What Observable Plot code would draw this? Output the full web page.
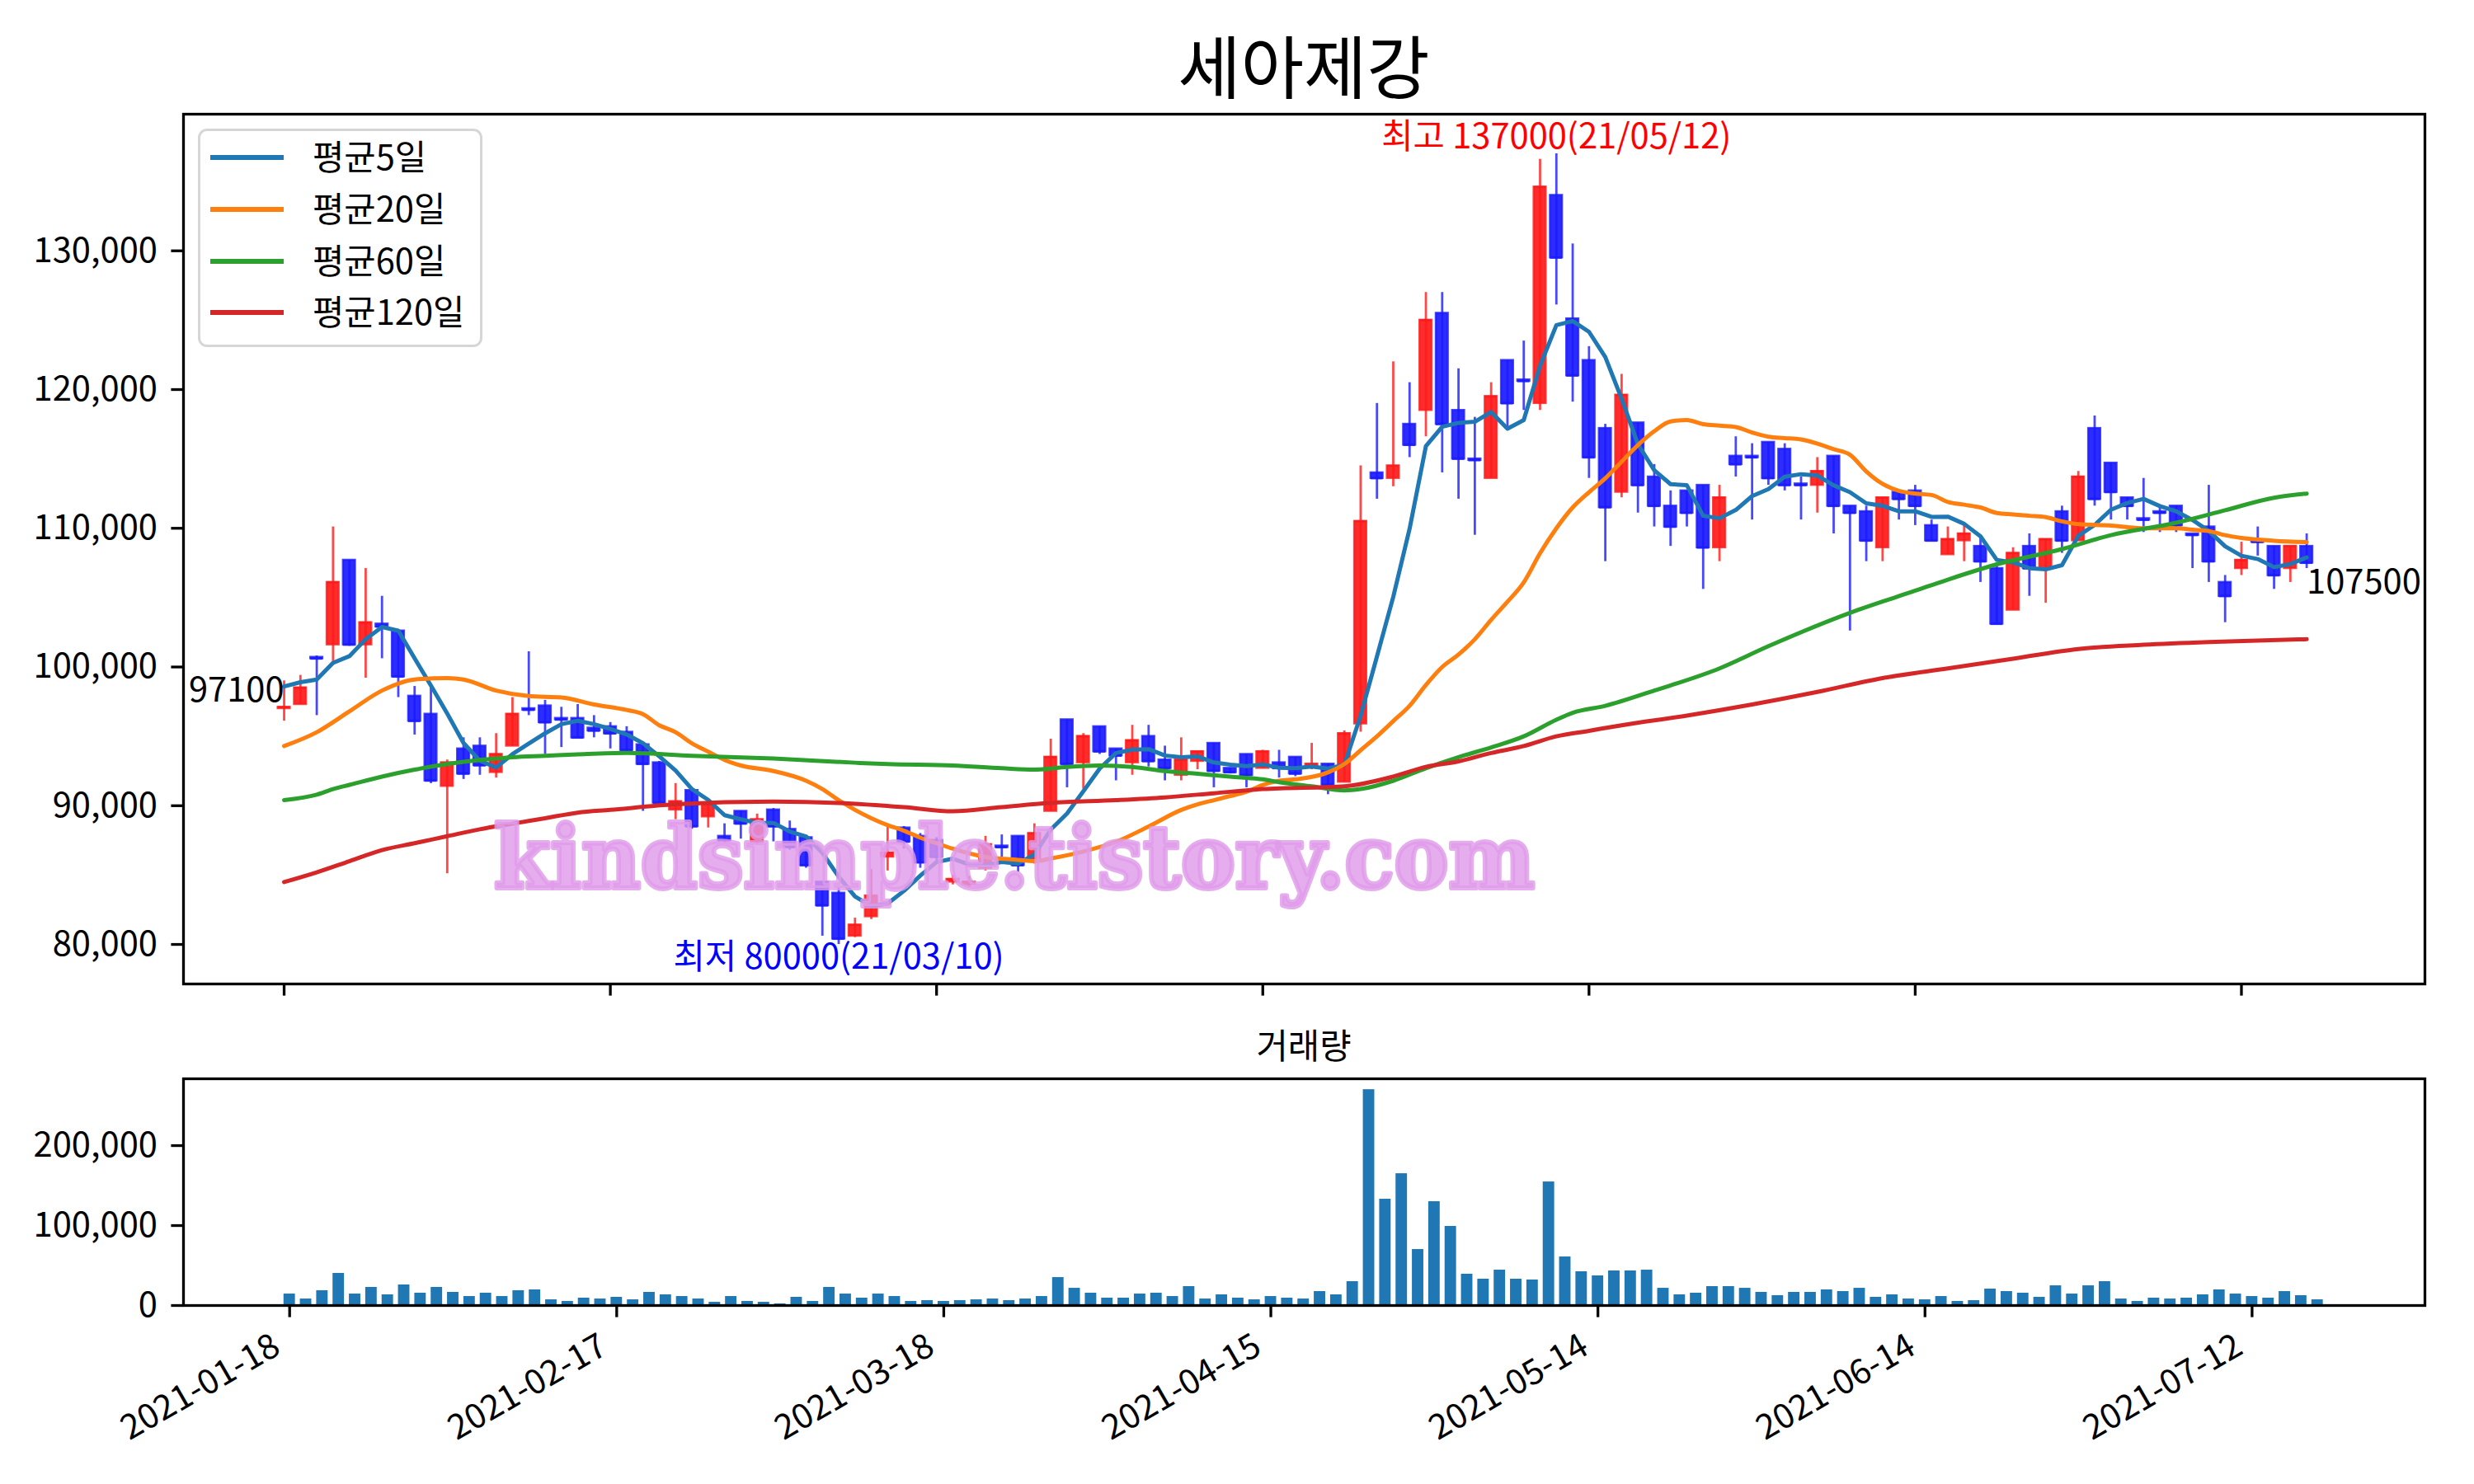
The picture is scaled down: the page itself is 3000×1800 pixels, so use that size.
<!DOCTYPE html>
<html>
<head>
<meta charset="utf-8">
<script src="https://cdn.jsdelivr.net/npm/d3@7"></script>
<script src="https://cdn.jsdelivr.net/npm/@observablehq/plot@0.6"></script>
<style>
  html, body { margin: 0; padding: 0; background: #fff; }
  #wrap { position: relative; width: 3000px; height: 1800px; background: #fff; font-family: "Noto Sans CJK KR", sans-serif; color: #000; overflow: hidden; }
  #wrap .abs { position: absolute; }
  #wrap svg g[aria-label*="axis"] line, #wrap svg g[aria-label*="axis"] path { stroke-width: 3.3px; stroke: #000; }
  #wrap svg g[aria-label*="axis"] text { fill: #000; }
  .title { left: 222px; width: 2718px; top: 36px; text-align: center; font-size: 83px; line-height: 1; }
  .subtitle { left: 222px; width: 2718px; top: 1246px; text-align: center; font-size: 41.67px; line-height: 1; }
  .legend { left: 240px; top: 156px; width: 345px; height: 265px; box-sizing: border-box; border: 3.3px solid #d6d6d6; border-radius: 11px; background: rgba(255,255,255,0.8); }
  .lgline { position: absolute; left: 255px; width: 89px; height: 6px; }
  .lgtext { position: absolute; left: 379px; font-size: 41.67px; line-height: 1; }
</style>
</head>
<body>
<div id="wrap"></div>
<script>
// ---------------- data ----------------
const tickIdx = [0, 20, 40, 60, 80, 100, 120];
const tickLabels = ["2021-01-18", "2021-02-17", "2021-03-18", "2021-04-15", "2021-05-14", "2021-06-14", "2021-07-12"];

const opens = [97000,97300,100700,101600,107700,101600,103100,102600,97900,96600,
91400,94100,94300,92400,94300,97000,97200,96300,96300,95600,
95700,95300,94400,93100,89700,91100,89200,87800,89600,87400,
89700,88300,87700,84500,83700,80600,82000,86300,88400,87800,
87500,84500,84300,85500,87100,87800,86000,89600,96200,93100,
95700,94100,93100,95000,93300,92200,93200,94500,92700,93700,
92700,93100,93500,92900,93000,91700,95900,114000,113600,117500,
118500,125500,118500,115000,113600,122100,120700,119000,134000,125100,
122100,117200,112600,117600,113700,111600,112700,113100,108600,115200,
115200,116200,115700,113200,113100,115200,111600,111200,108600,112600,
112700,110200,108100,109100,108700,107100,104100,108700,107200,111200,
109100,117200,114700,112200,110700,111200,111600,109600,110100,106100,
107100,109100,108700,107100,108700];

const highs = [99000,99400,100800,110100,107700,107100,105100,102600,98600,98500,
93300,94900,94900,95200,97800,101100,97600,97100,97300,96500,
96000,95700,94400,93200,91600,91200,90200,88700,89600,89400,
89800,88900,87700,84500,84100,81900,85400,88500,88500,88000,
87700,85000,84900,87800,87900,87800,88700,94800,96200,95200,
95700,94100,95800,95800,94300,94900,93900,94500,92700,93700,
94000,94000,93500,94500,93000,95400,114500,119000,122000,120500,
127000,127000,121500,118000,120500,122100,123500,136600,137000,130500,
123100,117500,121100,117600,114600,112700,112700,113100,113100,116600,
116100,116200,116100,113700,115100,115200,111600,111600,112200,112600,
113100,110600,110100,110200,109400,107500,108600,109600,109200,111600,
114100,118100,114700,112200,113600,111600,111600,109600,113100,106600,
109000,110100,108700,108700,109600];

const lows = [96100,97300,96500,100400,101500,99200,100600,97800,95100,91600,
85100,91900,92200,92000,94300,96500,93700,94200,94900,94900,
94100,93900,89600,90200,89000,88300,88400,87300,87600,87200,
87400,86800,85500,80600,80000,80500,81800,85300,86900,85500,
85900,84300,84100,85300,86300,85200,85800,89600,91300,91200,
93700,91800,92200,92800,91800,91800,92600,91300,92300,91300,
92700,92000,92100,92600,90800,91700,95300,112100,113000,115100,
116600,114000,112100,109500,113600,117300,118500,118500,126100,119100,
113600,107600,112200,111100,110100,108700,110100,105600,107600,113700,
110600,113100,112700,110600,111100,109600,102600,107600,107600,110600,
110200,109100,108100,107600,106100,103100,104100,105100,104600,108200,
109100,111600,110600,110600,109700,109700,109700,107100,106100,103200,
106600,108000,105600,106100,107100];

const closes = [97100,98500,100600,106100,101600,103200,102900,99300,96100,91800,
93100,92300,92900,93700,96600,96900,96000,96200,94900,95400,
95200,94000,93000,90200,90300,88500,90100,87500,88700,89000,
88500,87000,85700,82800,80400,81400,83500,86600,87400,85900,
86300,84700,84500,87200,87000,85700,88000,93500,93000,95000,
93900,93600,94700,93200,92700,93300,93900,92500,92400,92200,
93900,92700,92300,93000,91500,95200,110500,113600,114500,116000,
125000,117500,115000,114900,119500,119000,120600,134600,129500,121000,
115100,111500,119600,113100,111600,110100,111100,108600,112200,114600,
115100,113600,113100,113100,114100,111600,111100,109100,112200,112100,
111600,109100,109200,109600,107600,103100,108200,107100,109200,109100,
113700,112100,112600,111600,110600,111100,110200,109500,107600,105100,
107700,109000,106600,108700,107500];

const volumes = [14400,8200,18600,40200,14400,22700,13400,25800,15500,22700,
16500,11300,15500,11300,18600,19600,7200,5200,9300,8200,
10300,7200,16500,13400,11300,8200,4100,11300,5200,4100,
2100,10300,5200,22700,14400,9300,14400,11300,5200,6200,
5200,6200,7200,8200,6200,8200,11300,35000,21600,15500,
9300,9300,14400,15500,11300,23700,8200,13400,9300,7200,
11300,9300,8200,17500,13400,29900,270000,133000,164900,70100,
129900,99000,39200,33000,44300,33000,32000,154600,60800,42300,
37100,43300,43300,44300,21600,13400,15500,23700,23700,21600,
16500,12400,16500,16500,19600,17500,21600,10300,13400,8200,
7200,11300,5200,6200,20600,17500,15500,10300,24700,14400,
24700,29900,8200,5200,9300,8200,9300,13400,19600,14400,
11300,9300,17500,12400,7200];

// 5-day average values at the first four days (their earlier closes are not on the chart)
const ma5Head = [98600, 98900, 99100, 100300];

// moving averages: [day index, value]
const ma20 = [[0,94300],[2,95300],[4,96800],[6,98300],[8,99100],[10,99200],[11,99100],[13,98300],[15,97900],[17,97800],
[19,97300],[21,96900],[22,96600],[23,95800],[24,95300],[25,94500],[26,93900],[27,93300],[28,92900],[30,92500],
[32,91800],[33,91200],[34,90400],[35,89700],[36,89100],[37,88600],[38,88200],[39,87700],[40,87300],[41,86900],
[43,86300],[45,86100],[46,86000],[47,86200],[49,86700],[51,87400],[53,88500],[55,89700],[56,90100],[57,90400],
[58,90700],[59,91000],[60,91500],[61,91800],[62,91900],[64,92400],[65,93000],[66,94000],[67,95000],[68,96100],
[69,97200],[70,98700],[71,100000],[72,100900],[73,102000],[74,103400],[75,104700],[76,106100],[77,108200],[78,110000],
[79,111500],[80,112600],[81,113600],[82,114800],[83,116000],[84,117000],[85,117700],[86,117800],[87,117500],[88,117400],
[89,117300],[90,116900],[91,116600],[92,116500],[93,116400],[94,116100],[95,115700],[96,115300],[97,114100],[98,113200],
[99,112700],[100,112500],[101,112400],[102,111900],[103,111700],[104,111500],[105,111100],[106,111000],[107,110900],[108,110800],
[109,110500],[110,110300],[112,110200],[114,110000],[116,110000],[117,109900],[118,109800],[119,109500],[120,109300],[122,109100],
[124,109000]];

const ma60 = [[0,90400],[2,90800],[3,91200],[4,91500],[6,92100],[8,92600],[10,93000],[12,93300],[14,93500],[16,93600],
[18,93700],[21,93800],[25,93600],[30,93400],[35,93100],[37,93000],[41,92900],[44,92700],[46,92600],[48,92800],
[50,92900],[52,92800],[54,92500],[56,92300],[58,92100],[60,91900],[61,91700],[63,91400],[65,91100],[66,91200],
[68,91800],[70,92700],[72,93500],[74,94200],[76,95000],[78,96200],[79,96700],[81,97200],[84,98300],[88,99900],
[91,101500],[96,103900],[100,105500],[102,106300],[105,107400],[109,108500],[112,109500],[116,110400],[119,111300],[122,112200],
[124,112500]];

const ma120 = [[0,84500],[2,85200],[4,86000],[6,86800],[8,87300],[10,87800],[12,88300],[14,88700],[16,89100],[18,89500],
[20,89700],[24,90100],[30,90300],[34,90200],[38,89900],[41,89600],[44,89900],[47,90200],[51,90400],[54,90600],
[57,90900],[60,91200],[65,91400],[68,92100],[70,92800],[72,93200],[74,93800],[76,94300],[78,95000],[80,95400],
[82,95800],[86,96500],[90,97300],[94,98200],[98,99200],[102,99900],[106,100600],[110,101300],[114,101600],[118,101800],
[124,102000]];

const hiLabel = "최고 137000(21/05/12)";
const loLabel = "최저 80000(21/03/10)";
const watermark = "kindsimple.tistory.com";
const seriesNames = ["평균5일", "평균20일", "평균60일", "평균120일"];
const seriesColors = ["#1f77b4", "#ff7f0e", "#2ca02c", "#d62728"];

// ---------------- build ----------------
const rows = closes.map((c, i) => ({i, open: opens[i], high: highs[i], low: lows[i], close: c, vol: volumes[i]}));
const ma5 = closes.map((c, i) => [i, i < 4 ? ma5Head[i] : d3.mean(closes.slice(i - 4, i + 1))]);
const UP = "#ff1a1a", DOWN = "#1a1aff";
const col = r => (r.close >= r.open ? UP : DOWN);
const FONT = "Noto Sans CJK KR";
const FS = 41.67;
const iMax = d3.maxIndex(highs), iMin = d3.minIndex(lows), iLast = closes.length - 1;

const main = Plot.plot({
  width: 3000, height: 1240,
  marginTop: 138, marginBottom: 47, marginLeft: 222, marginRight: 60,
  style: {fontFamily: FONT, fontSize: FS + "px", background: "transparent", overflow: "visible", color: "#000"},
  color: {type: "identity"},
  x: {domain: [-6.17, 131.25], ticks: tickIdx, tickFormat: () => "", tickSize: 14.6, label: null},
  y: {domain: [77150, 139850], ticks: [80000, 90000, 100000, 110000, 120000, 130000], tickFormat: d3.format(","), tickSize: 14.6, tickPadding: 17, label: null},
  marks: [
    Plot.ruleX(rows, {x: "i", y1: "low", y2: "high", stroke: col, strokeWidth: 2.8, strokeOpacity: 0.8}),
    Plot.rect(rows, {x1: r => r.i - 0.37, x2: r => r.i + 0.37, y1: "open", y2: "close", fill: col, fillOpacity: 0.92, stroke: col, strokeOpacity: 0.8, strokeWidth: 2.5}),
    Plot.ruleY(rows, {y: "close", x1: r => r.i - 0.37, x2: r => r.i + 0.37, stroke: col, strokeWidth: 2.5, strokeOpacity: 0.85}),
    Plot.line(ma5, {x: d => d[0], y: d => d[1], stroke: seriesColors[0], strokeWidth: 5}),
    Plot.line(ma20, {x: d => d[0], y: d => d[1], stroke: seriesColors[1], strokeWidth: 5, curve: "monotone-x"}),
    Plot.line(ma60, {x: d => d[0], y: d => d[1], stroke: seriesColors[2], strokeWidth: 5, curve: "monotone-x"}),
    Plot.line(ma120, {x: d => d[0], y: d => d[1], stroke: seriesColors[3], strokeWidth: 5, curve: "monotone-x"}),
    Plot.text([rows[iMax]], {x: "i", y: "high", text: () => hiLabel, fill: "#ff0000", lineAnchor: "bottom", dy: -6, fontSize: FS, fontFamily: FONT}),
    Plot.text([rows[iMin]], {x: "i", y: "low", text: () => loLabel, fill: "#0000ff", lineAnchor: "top", dy: 0, fontSize: FS, fontFamily: FONT}),
    Plot.text([rows[0]], {x: "i", y: "close", text: d => String(d.close), fill: "#000", textAnchor: "end", lineAnchor: "bottom", dy: -7, fontSize: FS, fontFamily: FONT}),
    Plot.text([rows[iLast]], {x: "i", y: "close", text: d => String(d.close), fill: "#000", textAnchor: "start", lineAnchor: "top", dy: 8, fontSize: FS, fontFamily: FONT}),
    Plot.frame({stroke: "#000", strokeWidth: 3.3})
  ]
});

const vol = Plot.plot({
  width: 3000, height: 600,
  marginTop: 108, marginBottom: 217, marginLeft: 222, marginRight: 60,
  style: {fontFamily: FONT, fontSize: FS + "px", background: "transparent", overflow: "visible", color: "#000"},
  x: {domain: [-6.49, 130.57], ticks: tickIdx, tickFormat: d => tickLabels[tickIdx.indexOf(d)], tickRotate: -30, tickSize: 14.6, tickPadding: 22, label: null},
  y: {domain: [0, 283573], ticks: [0, 100000, 200000], tickFormat: d3.format(","), tickSize: 14.6, tickPadding: 17, label: null},
  marks: [
    Plot.rect(rows, {x1: r => r.i - 0.35, x2: r => r.i + 0.35, y1: () => 0, y2: "vol", fill: "#1f77b4"}),
    Plot.frame({stroke: "#000", strokeWidth: 3.3})
  ]
});

// nudge the rotated date labels along their baseline, as matplotlib aligns their right edge to the tick
vol.querySelectorAll('g[aria-label^="x-axis"] text').forEach(el => {
  if (tickLabels.includes(el.textContent)) el.setAttribute("dx", "-18");
});

const wrap = document.getElementById("wrap");
function place(el, top) {
  const d = document.createElement("div");
  d.className = "abs";
  d.style.left = "0px";
  d.style.top = top + "px";
  d.appendChild(el);
  wrap.appendChild(d);
}
place(main, 0);
place(vol, 1200);

// title and panel caption
const t = document.createElement("div"); t.className = "abs title"; t.textContent = "세아제강"; wrap.appendChild(t);
const st = document.createElement("div"); st.className = "abs subtitle"; st.textContent = "거래량"; wrap.appendChild(st);

// legend
const lg = document.createElement("div"); lg.className = "abs legend"; wrap.appendChild(lg);
const rowY = [190.7, 253.7, 316.7, 378.7];
seriesNames.forEach((name, k) => {
  const ln = document.createElement("div"); ln.className = "lgline";
  ln.style.top = (rowY[k] - 3) + "px"; ln.style.background = seriesColors[k]; wrap.appendChild(ln);
  const tx = document.createElement("div"); tx.className = "lgtext";
  tx.style.top = (rowY[k] - 23) + "px"; tx.textContent = name; wrap.appendChild(tx);
});

// watermark overlay
const NS = "http://www.w3.org/2000/svg";
const wm = document.createElementNS(NS, "svg");
wm.setAttribute("width", 3000); wm.setAttribute("height", 1800);
wm.setAttribute("class", "abs"); wm.style.left = "0px"; wm.style.top = "0px"; wm.style.pointerEvents = "none";
const wt = document.createElementNS(NS, "text");
wt.setAttribute("x", 1230); wt.setAttribute("y", 1077);
wt.setAttribute("text-anchor", "middle");
wt.setAttribute("font-family", "DejaVu Serif");
wt.setAttribute("font-weight", "bold");
wt.setAttribute("font-size", 104);
wt.setAttribute("textLength", 1262);
wt.setAttribute("lengthAdjust", "spacingAndGlyphs");
wt.setAttribute("fill", "#df9be9");
wt.setAttribute("fill-opacity", 0.82);
wt.setAttribute("stroke", "#df9be9");
wt.setAttribute("stroke-opacity", 0.82);
wt.setAttribute("stroke-width", 6);
wt.setAttribute("stroke-linejoin", "round");
wt.setAttribute("paint-order", "stroke");
wt.textContent = watermark;
wm.appendChild(wt);
wrap.appendChild(wm);
</script>
</body>
</html>
